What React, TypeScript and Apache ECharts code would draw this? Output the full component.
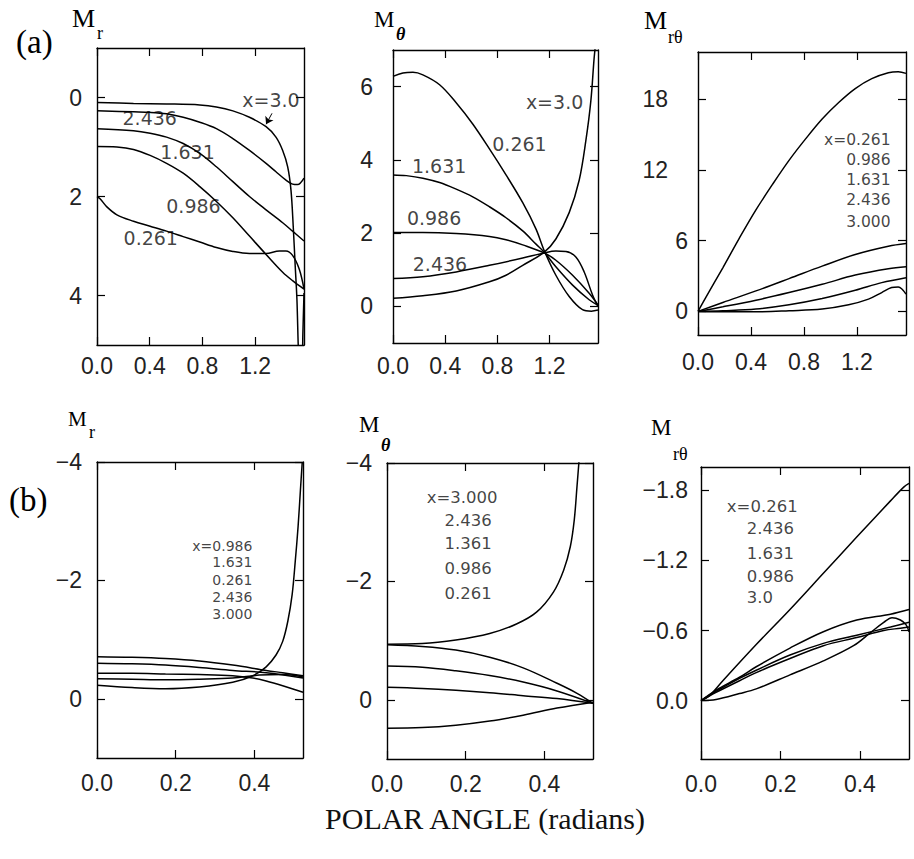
import React, { useEffect, useRef } from "react";
import * as echarts from "echarts";

// ---------- data: panel (a) ----------
const A_X_TICKS = [0, 0.4, 0.8, 1.2];
const B_X_TICKS = [0, 0.2, 0.4];

const A1_Y_TICKS = [0, 2, 4];
const A2_Y_TICKS = [0, 2, 4, 6];
const A3_Y_TICKS = [0, 6, 12, 18];
const B1_Y_TICKS = [-4, -2, 0];
const B2_Y_TICKS = [-4, -2, 0];
const B3_Y_TICKS = [-1.8, -1.2, -0.6, 0];

// (a) M_r
const A1_3000 = [[0, 0.1], [0.277, 0.12], [0.528, 0.13], [0.78, 0.15], [0.906, 0.19], [1.031, 0.27], [1.157, 0.4], [1.283, 0.59], [1.358, 0.8], [1.409, 1.07], [1.447, 1.4], [1.472, 1.87], [1.489, 2.6], [1.504, 3.4], [1.517, 4.07], [1.527, 5.0], [1.535, 5.5], [1.555, 5.5], [1.562, 4.8], [1.5708, 3.95]];
const A1_2436 = [[0, 0.27], [0.277, 0.29], [0.403, 0.3], [0.528, 0.33], [0.654, 0.4], [0.78, 0.5], [0.906, 0.63], [1.031, 0.83], [1.157, 1.07], [1.283, 1.33], [1.358, 1.5], [1.434, 1.67], [1.484, 1.75], [1.522, 1.76], [1.5708, 1.63]];
const A1_1631 = [[0, 0.63], [0.277, 0.67], [0.403, 0.72], [0.528, 0.8], [0.654, 0.93], [0.78, 1.13], [0.906, 1.4], [1.031, 1.7], [1.157, 2.0], [1.283, 2.27], [1.409, 2.53], [1.484, 2.7], [1.5708, 2.9]];
const A1_0986 = [[0, 0.99], [0.151, 1.0], [0.277, 1.05], [0.403, 1.17], [0.528, 1.33], [0.654, 1.53], [0.78, 1.8], [0.906, 2.1], [1.031, 2.43], [1.157, 2.8], [1.283, 3.17], [1.409, 3.53], [1.484, 3.7], [1.5708, 3.87]];
const A1_0261 = [[0, 2.0], [0.025, 2.05], [0.075, 2.21], [0.151, 2.37], [0.277, 2.5], [0.403, 2.6], [0.528, 2.7], [0.654, 2.81], [0.78, 2.92], [0.906, 3.03], [1.031, 3.11], [1.157, 3.15], [1.283, 3.15], [1.384, 3.1], [1.434, 3.1], [1.484, 3.19], [1.535, 3.47], [1.5708, 3.87]];

// (a) M_theta
const A2_0261 = [[0, 6.28], [0.076, 6.37], [0.153, 6.39], [0.229, 6.32], [0.357, 6.05], [0.484, 5.56], [0.611, 4.98], [0.739, 4.3], [0.866, 3.59], [0.994, 2.83], [1.096, 2.11], [1.159, 1.52], [1.248, 0.85], [1.35, 0.27], [1.452, -0.09], [1.52, -0.13], [1.5708, -0.1]];
const A2_1631 = [[0, 3.59], [0.102, 3.57], [0.229, 3.5], [0.357, 3.38], [0.484, 3.2], [0.611, 2.99], [0.739, 2.72], [0.866, 2.42], [0.994, 2.06], [1.096, 1.7], [1.159, 1.48], [1.248, 1.08], [1.376, 0.58], [1.503, 0.18], [1.5708, 0.03]];
const A2_0986 = [[0, 2.02], [0.229, 2.02], [0.484, 1.99], [0.739, 1.91], [0.866, 1.82], [0.994, 1.68], [1.159, 1.46], [1.248, 1.26], [1.376, 0.85], [1.503, 0.36], [1.5708, 0.04]];
const A2_2436 = [[0, 0.76], [0.229, 0.81], [0.484, 0.94], [0.739, 1.12], [0.994, 1.32], [1.159, 1.46], [1.248, 1.51], [1.325, 1.5], [1.401, 1.35], [1.465, 0.94], [1.529, 0.31], [1.5708, 0]];
const A2_3000 = [[0, 0.22], [0.229, 0.29], [0.484, 0.42], [0.739, 0.67], [0.866, 0.85], [0.994, 1.12], [1.159, 1.48], [1.248, 1.84], [1.35, 2.56], [1.427, 3.45], [1.478, 4.53], [1.516, 5.61], [1.541, 6.77], [1.554, 7.22]];

// (a) M_rtheta
const A3_0261 = [[0, 0], [0.0625, 1.25], [0.1875, 3.7], [0.3125, 6.22], [0.4375, 8.61], [0.5625, 10.77], [0.6875, 12.81], [0.8125, 14.63], [0.9375, 16.32], [1.0625, 17.72], [1.1875, 18.9], [1.3125, 19.74], [1.4375, 20.24], [1.5125, 20.33], [1.5708, 20.19]];
const A3_0986 = [[0, 0], [0.1875, 0.76], [0.4375, 1.74], [0.6875, 2.78], [0.9375, 3.84], [1.1875, 4.82], [1.4375, 5.52], [1.5708, 5.75]];
const A3_1631 = [[0, 0], [0.1875, 0.39], [0.4375, 0.95], [0.6875, 1.6], [0.9375, 2.3], [1.1875, 3.08], [1.4375, 3.62], [1.5708, 3.78]];
const A3_2436 = [[0, 0], [0.1875, 0.06], [0.4375, 0.2], [0.6875, 0.56], [0.9375, 1.09], [1.1875, 1.79], [1.3875, 2.44], [1.5708, 2.86]];
const A3_3000 = [[0, 0], [0.1875, -0.03], [0.4375, -0.03], [0.6875, 0.06], [0.9375, 0.2], [1.1375, 0.56], [1.2875, 1.04], [1.3875, 1.6], [1.4625, 2.02], [1.5125, 2.07], [1.5708, 1.46]];

// ---------- data: panel (b) ----------
const B1_0986 = [[0, -0.71], [0.089, -0.7], [0.174, -0.68], [0.26, -0.64], [0.345, -0.57], [0.43, -0.48], [0.472, -0.44], [0.5236, -0.39]];
const B1_1631 = [[0, -0.6], [0.089, -0.59], [0.174, -0.57], [0.26, -0.53], [0.345, -0.48], [0.43, -0.44], [0.5236, -0.35]];
const B1_0261 = [[0, -0.43], [0.089, -0.43], [0.174, -0.42], [0.26, -0.41], [0.345, -0.39], [0.396, -0.35], [0.43, -0.3], [0.472, -0.22], [0.5236, -0.11]];
const B1_2436 = [[0, -0.34], [0.089, -0.33], [0.174, -0.32], [0.26, -0.33], [0.345, -0.35], [0.413, -0.4], [0.472, -0.41], [0.5236, -0.37]];
const B1_3000 = [[0, -0.23], [0.089, -0.19], [0.174, -0.17], [0.26, -0.2], [0.345, -0.28], [0.396, -0.39], [0.43, -0.54], [0.455, -0.74], [0.472, -0.97], [0.485, -1.31], [0.496, -1.76], [0.504, -2.33], [0.511, -2.9], [0.517, -3.52], [0.5217, -4.0]];

const B2_3000 = [[0, -0.94], [0.0897, -0.95], [0.175, -1.01], [0.261, -1.12], [0.329, -1.28], [0.38, -1.48], [0.423, -1.82], [0.449, -2.19], [0.466, -2.59], [0.476, -3.04], [0.483, -3.61], [0.488, -4.03]];
const B2_2436 = [[0, -0.93], [0.0897, -0.9], [0.175, -0.84], [0.261, -0.72], [0.346, -0.54], [0.432, -0.28], [0.483, -0.11], [0.5236, 0.06]];
const B2_1361 = [[0, -0.57], [0.0897, -0.55], [0.175, -0.49], [0.261, -0.41], [0.346, -0.3], [0.432, -0.15], [0.5236, 0.06]];
const B2_0986 = [[0, -0.21], [0.0897, -0.19], [0.175, -0.16], [0.261, -0.12], [0.346, -0.07], [0.432, -0.02], [0.5236, 0.06]];
const B2_0261 = [[0, 0.48], [0.0897, 0.47], [0.175, 0.43], [0.261, 0.36], [0.346, 0.26], [0.432, 0.14], [0.5236, 0.04]];

const B3_0261 = [[0, 0], [0.021, -0.04], [0.055, -0.17], [0.139, -0.48], [0.224, -0.78], [0.308, -1.09], [0.392, -1.4], [0.477, -1.71], [0.511, -1.83], [0.5236, -1.86]];
const B3_2436 = [[0, 0], [0.038, -0.09], [0.097, -0.2], [0.139, -0.29], [0.224, -0.45], [0.308, -0.59], [0.392, -0.69], [0.477, -0.74], [0.5236, -0.78]];
const B3_1631 = [[0, 0], [0.038, -0.08], [0.097, -0.19], [0.139, -0.26], [0.224, -0.39], [0.308, -0.49], [0.392, -0.56], [0.477, -0.63], [0.5236, -0.67]];
const B3_0986 = [[0, 0], [0.038, -0.07], [0.097, -0.17], [0.139, -0.24], [0.224, -0.36], [0.308, -0.47], [0.392, -0.54], [0.46, -0.6], [0.502, -0.62], [0.5236, -0.63]];
const B3_3000 = [[0, 0], [0.038, -0.01], [0.097, -0.06], [0.139, -0.1], [0.224, -0.22], [0.308, -0.34], [0.384, -0.47], [0.426, -0.58], [0.46, -0.67], [0.481, -0.71], [0.502, -0.69], [0.516, -0.65], [0.5236, -0.59]];

// ---------- annotation labels (data coordinates) ----------
const A1_LABELS = [
  { t: "x=3.0", x: 1.32, y: 0.06, a: "center" },
  { t: "2.436", x: 0.4, y: 0.42, a: "center" },
  { t: "1.631", x: 0.687, y: 1.1, a: "center" },
  { t: "0.986", x: 0.732, y: 2.2, a: "center" },
  { t: "0.261", x: 0.408, y: 2.84, a: "center" },
];
const A1_ARROW = [[1.328, 0.32], [1.283, 0.54]];
const A2_LABELS = [
  { t: "x=3.0", x: 1.238, y: 5.57, a: "center" },
  { t: "0.261", x: 0.969, y: 4.43, a: "center" },
  { t: "1.631", x: 0.354, y: 3.84, a: "center" },
  { t: "0.986", x: 0.315, y: 2.4, a: "center" },
  { t: "2.436", x: 0.36, y: 1.16, a: "center" },
];
const A3_LABELS = [
  { t: "x=0.261", x: 1.454, y: 14.54, a: "right" },
  { t: "0.986", x: 1.454, y: 12.84, a: "right" },
  { t: "1.631", x: 1.454, y: 11.14, a: "right" },
  { t: "2.436", x: 1.454, y: 9.45, a: "right" },
  { t: "3.000", x: 1.454, y: 7.58, a: "right" },
];
const B1_LABELS = [
  { t: "x=0.986", x: 0.395, y: -2.58, a: "right" },
  { t: "1.631", x: 0.395, y: -2.31, a: "right" },
  { t: "0.261", x: 0.395, y: -2.01, a: "right" },
  { t: "2.436", x: 0.395, y: -1.72, a: "right" },
  { t: "3.000", x: 0.395, y: -1.43, a: "right" },
];
const B2_LABELS = [
  { t: "x=3.000", x: 0.281, y: -3.42, a: "right" },
  { t: "2.436", x: 0.266, y: -3.03, a: "right" },
  { t: "1.361", x: 0.266, y: -2.64, a: "right" },
  { t: "0.986", x: 0.266, y: -2.22, a: "right" },
  { t: "0.261", x: 0.266, y: -1.8, a: "right" },
];
const B3_LABELS = [
  { t: "x=0.261", x: 0.065, y: -1.66, a: "left" },
  { t: "2.436", x: 0.115, y: -1.47, a: "left" },
  { t: "1.631", x: 0.115, y: -1.26, a: "left" },
  { t: "0.986", x: 0.115, y: -1.06, a: "left" },
  { t: "3.0", x: 0.115, y: -0.88, a: "left" },
];

// ---------- layout ----------
const TICK_FONT = "Liberation Sans";
const SERIF = "Liberation Serif";
const ANN_FONT = "DejaVu Sans";

const neg = (v: number) => (v < 0 ? "\u2212" + Math.abs(v) : String(v));
const neg1 = (v: number) => (v < 0 ? "\u2212" + Math.abs(v).toFixed(1) : v.toFixed(1));

const PANELS = [
  { grid: { left: 97, top: 48, width: 207, height: 297 }, xMax: Math.PI / 2, xTicks: A_X_TICKS, yMin: -1, yMax: 5, yTicks: A1_Y_TICKS, inverse: true, fmt: (v: number) => String(v), yMargin: 15, xMargin: 9, annSize: 19, curves: [A1_3000, A1_2436, A1_1631, A1_0986, A1_0261], labels: A1_LABELS, arrow: A1_ARROW },
  { grid: { left: 393, top: 50, width: 205, height: 293 }, xMax: Math.PI / 2, xTicks: A_X_TICKS, yMin: -1, yMax: 7, yTicks: A2_Y_TICKS, inverse: false, fmt: (v: number) => String(v), yMargin: 20, xMargin: 11, annSize: 19, curves: [A2_0261, A2_1631, A2_0986, A2_2436, A2_3000], labels: A2_LABELS },
  { grid: { left: 698, top: 52, width: 208, height: 283 }, xMax: Math.PI / 2, xTicks: A_X_TICKS, yMin: -2, yMax: 22, yTicks: A3_Y_TICKS, inverse: false, fmt: (v: number) => (v >= 10 ? "{w|" + v + "}" : String(v)), yMargin: 10, xMargin: 15, annSize: 15.5, curves: [A3_0261, A3_0986, A3_1631, A3_2436, A3_3000], labels: A3_LABELS },
  { grid: { left: 97, top: 462, width: 206, height: 296 }, xMax: Math.PI / 6, xTicks: B_X_TICKS, yMin: -4, yMax: 1, yTicks: B1_Y_TICKS, inverse: true, fmt: neg, yMargin: 15, xMargin: 13, annSize: 14, curves: [B1_0986, B1_1631, B1_0261, B1_2436, B1_3000], labels: B1_LABELS },
  { grid: { left: 387, top: 463, width: 206, height: 296 }, xMax: Math.PI / 6, xTicks: B_X_TICKS, yMin: -4, yMax: 1, yTicks: B2_Y_TICKS, inverse: true, fmt: neg, yMargin: 15, xMargin: 13, annSize: 16.5, curves: [B2_3000, B2_2436, B2_1361, B2_0986, B2_0261], labels: B2_LABELS },
  { grid: { left: 701, top: 467, width: 208, height: 292 }, xMax: Math.PI / 6, xTicks: B_X_TICKS, yMin: -2, yMax: 0.5, yTicks: B3_Y_TICKS, inverse: true, fmt: neg1, yMargin: 13, xMargin: 13, annSize: 16.5, curves: [B3_0261, B3_2436, B3_1631, B3_0986, B3_3000], labels: B3_LABELS },
];

const TITLES = [
  { x: 72, y: 31, m: 26, sub: "r", sx: 97, sy: 42, italic: false },
  { x: 374, y: 31, m: 23, sub: "\u03b8", sx: 396, sy: 43, italic: true },
  { x: 644, y: 33, m: 26, sub: "r\u03b8", sx: 668, sy: 46, italic: false },
  { x: 68, y: 429, m: 21, sub: "r", sx: 89, sy: 441, italic: false },
  { x: 359, y: 436, m: 23, sub: "\u03b8", sx: 381, sy: 454, italic: true },
  { x: 651, y: 439, m: 23, sub: "r\u03b8", sx: 673, sy: 463, italic: false },
];

function buildOption() {
  const grid: any[] = [];
  const xAxis: any[] = [];
  const yAxis: any[] = [];
  const series: any[] = [];
  const axisLine = { show: true, onZero: false, lineStyle: { color: "#000", width: 1.4 } };

  PANELS.forEach((p, i) => {
    grid.push({ ...p.grid, containLabel: false });
    const tickStyle = { lineStyle: { color: "#000", width: 1.2 } };
    xAxis.push({
      type: "value", gridIndex: i, position: "bottom", min: 0, max: p.xMax,
      axisLine, splitLine: { show: false },
      axisTick: { show: true, inside: true, length: 8, customValues: p.xTicks, ...tickStyle },
      axisLabel: { show: true, customValues: p.xTicks, formatter: (v: number) => v.toFixed(1), fontFamily: TICK_FONT, fontSize: 23, color: "#222", margin: p.xMargin },
    });
    xAxis.push({
      type: "value", gridIndex: i, position: "top", min: 0, max: p.xMax,
      axisLine, splitLine: { show: false },
      axisTick: { show: true, inside: true, length: 8, customValues: p.xTicks, ...tickStyle },
      axisLabel: { show: false },
    });
    yAxis.push({
      type: "value", gridIndex: i, position: "left", min: p.yMin, max: p.yMax, inverse: p.inverse,
      axisLine, splitLine: { show: false },
      axisTick: { show: true, inside: true, length: 8, customValues: p.yTicks, ...tickStyle },
      axisLabel: {
        show: true, customValues: p.yTicks, formatter: p.fmt, fontFamily: TICK_FONT, fontSize: 23, color: "#222", margin: p.yMargin,
        rich: { w: { fontFamily: TICK_FONT, fontSize: 23, color: "#222", padding: [0, 20, 0, 0] } },
      },
    });
    yAxis.push({
      type: "value", gridIndex: i, position: "right", min: p.yMin, max: p.yMax, inverse: p.inverse,
      axisLine, splitLine: { show: false },
      axisTick: { show: true, inside: true, length: 8, customValues: p.yTicks, ...tickStyle },
      axisLabel: { show: false },
    });

    p.curves.forEach((c) => {
      series.push({
        type: "line", xAxisIndex: 2 * i, yAxisIndex: 2 * i, data: c, smooth: 0.35,
        symbol: "none", clip: true, silent: true,
        lineStyle: { color: "#000", width: 1.5 },
      });
    });

    const sc: any = {
      type: "scatter", xAxisIndex: 2 * i, yAxisIndex: 2 * i, symbolSize: 0, clip: false, silent: true,
      data: p.labels.map((l) => ({
        value: [l.x, l.y], name: l.t,
        label: { align: l.a },
      })),
      label: {
        show: true, position: "inside", formatter: "{b}", verticalAlign: "middle",
        fontFamily: ANN_FONT, fontSize: p.annSize, lineHeight: Math.round(p.annSize * 0.8), color: "#111",
      },
    };
    if ((p as any).arrow) {
      const ar = (p as any).arrow;
      sc.markLine = {
        silent: true, symbol: ["none", "arrow"], symbolSize: 7, animation: false,
        label: { show: false },
        lineStyle: { color: "#000", width: 1, type: "solid" },
        data: [[{ coord: ar[0] }, { coord: ar[1] }]],
      };
    }
    series.push(sc);
  });

  const graphic: any[] = [];
  TITLES.forEach((t) => {
    graphic.push({
      type: "text", x: t.x, y: t.y,
      style: { text: "M", fontFamily: SERIF, fontSize: t.m, fill: "#000", textAlign: "left", textVerticalAlign: "bottom", align: "left", verticalAlign: "bottom" },
    });
    graphic.push({
      type: "text", x: t.sx, y: t.sy,
      style: { text: t.sub, fontFamily: SERIF, fontSize: 18, fontStyle: t.italic ? "italic" : "normal", fontWeight: t.italic ? "bold" : "normal", fill: "#000", textAlign: "left", textVerticalAlign: "bottom", align: "left", verticalAlign: "bottom" },
    });
  });
  graphic.push({
    type: "text", x: 16, y: 42,
    style: { text: "(a)", fontFamily: SERIF, fontSize: 33, fill: "#000", textAlign: "left", textVerticalAlign: "middle", align: "left", verticalAlign: "middle" },
  });
  graphic.push({
    type: "text", x: 9, y: 500,
    style: { text: "(b)", fontFamily: SERIF, fontSize: 33, fill: "#000", textAlign: "left", textVerticalAlign: "middle", align: "left", verticalAlign: "middle" },
  });
  graphic.push({
    type: "text", x: 485, y: 818,
    style: { text: "POLAR ANGLE (radians)", fontFamily: SERIF, fontSize: 30, fill: "#111", textAlign: "center", textVerticalAlign: "middle", align: "center", verticalAlign: "middle" },
  });

  return { animation: false, backgroundColor: "#fff", grid, xAxis, yAxis, series, graphic };
}

export default function App() {
  const ref = useRef<HTMLDivElement>(null);
  useEffect(() => {
    if (!ref.current) return;
    const chart = echarts.init(ref.current, null, { renderer: "svg" });
    chart.setOption(buildOption() as any);
    return () => chart.dispose();
  }, []);
  return <div ref={ref} style={{ position: "fixed", left: 0, top: 0, width: 914, height: 859, background: "#fff" }} />;
}
